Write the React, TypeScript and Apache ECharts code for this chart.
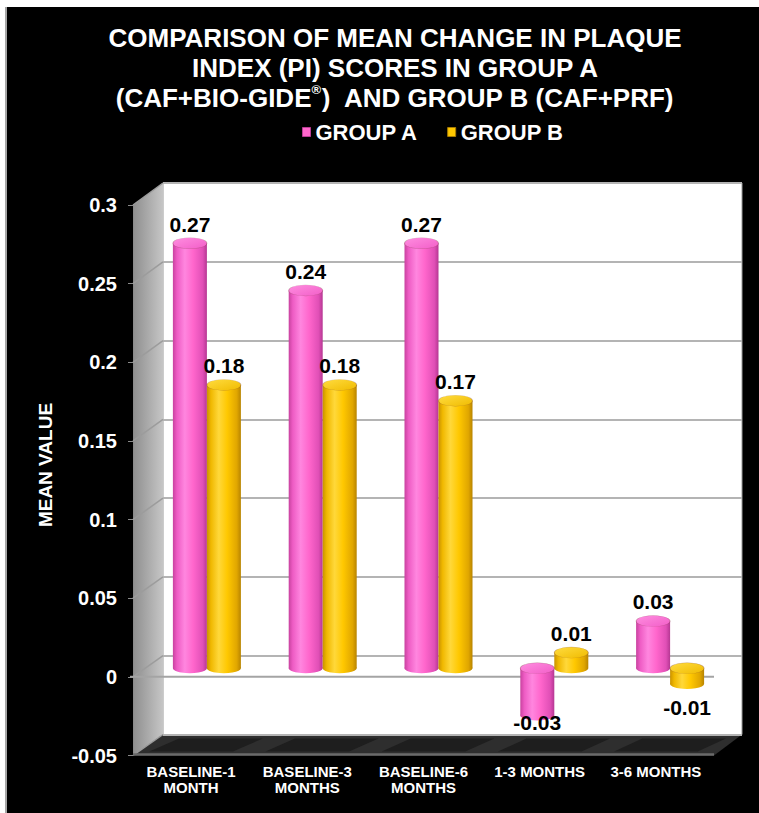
import React, { useEffect, useRef } from "react";
import * as echarts from "echarts";

// Categories and mean change values for each group
const categories = [
  "BASELINE-1\nMONTH",
  "BASELINE-3\nMONTHS",
  "BASELINE-6\nMONTHS",
  "1-3 MONTHS",
  "3-6 MONTHS",
];
const groupA = [0.27, 0.24, 0.27, -0.03, 0.03];
const groupB = [0.18, 0.18, 0.17, 0.01, -0.01];
const seriesNames = ["GROUP A", "GROUP B"];
const yMin = -0.05;
const yMax = 0.3;
const yStep = 0.05;

const FONT = "'Liberation Sans', Arial, Helvetica, sans-serif";

// Box layout (chart pixels): front plane, back wall and the plane the bars stand in
const FRONT = { left: 126, top: 198, width: 581, height: 550.5 };
const BACK = { left: 156, top: 176, width: 579, height: 551.5 };
const BARS = { left: 142, top: 189, width: 579, height: 551 };
const BAR_W = 34;

const yOn = (g: { top: number; height: number }, t: number) =>
  g.top + ((yMax - t) / (yMax - yMin)) * g.height;

const pinkBody = () =>
  new echarts.graphic.LinearGradient(0, 0, 1, 0, [
    { offset: 0, color: "#c8429f" },
    { offset: 0.12, color: "#ee5cc4" },
    { offset: 0.35, color: "#ff86df" },
    { offset: 0.6, color: "#ff66cc" },
    { offset: 0.88, color: "#e04fb6" },
    { offset: 1, color: "#b63793" },
  ]);
const yellowBody = () =>
  new echarts.graphic.LinearGradient(0, 0, 1, 0, [
    { offset: 0, color: "#c99200" },
    { offset: 0.12, color: "#f0b800" },
    { offset: 0.35, color: "#ffd83a" },
    { offset: 0.6, color: "#ffc800" },
    { offset: 0.88, color: "#e0a600" },
    { offset: 1, color: "#b88400" },
  ]);
const pinkTop = () =>
  new echarts.graphic.LinearGradient(0, 0, 1, 1, [
    { offset: 0, color: "#ff8ee0" },
    { offset: 1, color: "#f25ec8" },
  ]);
const yellowTop = () =>
  new echarts.graphic.LinearGradient(0, 0, 1, 1, [
    { offset: 0, color: "#ffdc40" },
    { offset: 1, color: "#f0bb00" },
  ]);

function buildOption() {
  const ticks: number[] = [];
  for (let k = 0; k <= Math.round((yMax - yMin) / yStep); k++) ticks.push(yMin + k * yStep);

  const fl = FRONT.left;
  const fr = FRONT.left + FRONT.width;
  const bl = BACK.left;
  const br = BACK.left + BACK.width;
  const fBottom = FRONT.top + FRONT.height;
  const bBottom = BACK.top + BACK.height;

  const graphic: any[] = [];
  // side wall
  graphic.push({
    type: "polygon",
    z: 0,
    shape: { points: [[fl, FRONT.top], [bl, BACK.top], [bl, bBottom], [fl, fBottom]] },
    style: {
      fill: new echarts.graphic.LinearGradient(0, 0, 1, 0, [
        { offset: 0, color: "#8e8e8e" },
        { offset: 1, color: "#c6c6c6" },
      ]),
    },
  });
  ticks.forEach((t) => {
    graphic.push({
      type: "line",
      z: 1,
      shape: { x1: fl, y1: yOn(FRONT, t), x2: bl, y2: yOn(BACK, t) },
      style: { stroke: "#9c9c9c", lineWidth: 1.5 },
    });
  });
  // floor
  graphic.push({
    type: "polygon",
    z: 0,
    shape: { points: [[fl, fBottom], [bl, bBottom], [br, bBottom], [fr, fBottom]] },
    style: { fill: "#2e2e2e" },
  });
  const nCat = categories.length;
  for (let i = 0; i < nCat; i++) {
    const fb = FRONT.width / nCat;
    const bb = BACK.width / nCat;
    const cf = fl + fb * (i + 0.5);
    const cb = bl + bb * (i + 0.5);
    const hw = fb * 0.36;
    graphic.push({
      type: "polygon",
      z: 1,
      shape: {
        points: [
          [cf - hw, fBottom - 4],
          [cb - hw, bBottom + 4],
          [cb + hw, bBottom + 4],
          [cf + hw, fBottom - 4],
        ],
      },
      style: { fill: "#1e1e1e" },
    });
  }
  graphic.push({
    type: "line",
    z: 1,
    shape: { x1: fl, y1: fBottom - 1, x2: fr, y2: fBottom - 1 },
    style: { stroke: "#6a6a6a", lineWidth: 2.5 },
  });
  // zero line across the front
  graphic.push({
    type: "line",
    z: 1,
    shape: { x1: fl - 3, y1: yOn(FRONT, 0), x2: fr, y2: yOn(FRONT, 0) },
    style: { stroke: "#a4a4a4", lineWidth: 2 },
  });
  // title
  graphic.push({
    type: "text",
    z: 5,
    x: 388,
    y: 16,
    style: {
      text:
        "COMPARISON OF MEAN CHANGE IN PLAQUE\nINDEX (PI) SCORES IN GROUP A\n(CAF+BIO-GIDE{sup|®})  AND GROUP B (CAF+PRF)",
      fill: "#ffffff",
      fontSize: 26,
      fontWeight: "bold",
      fontFamily: FONT,
      lineHeight: 30,
      align: "center",
      verticalAlign: "top",
      rich: {
        sup: {
          fill: "#ffffff",
          fontSize: 13,
          fontWeight: "bold",
          fontFamily: FONT,
          verticalAlign: "top",
          lineHeight: 30,
          padding: [0, 0, 8, 0],
        },
      },
    },
  });
  // y-axis name
  graphic.push({
    type: "text",
    z: 5,
    x: 38,
    y: 458,
    rotation: Math.PI / 2,
    style: {
      text: "MEAN VALUE",
      fill: "#ffffff",
      fontSize: 19,
      fontWeight: "bold",
      fontFamily: FONT,
      align: "center",
      verticalAlign: "middle",
    },
  });

  const capLabel = (vals: number[], dist: number, pos: string, offset: number[]) => ({
    show: true,
    position: pos,
    distance: dist,
    offset,
    color: "#000",
    fontSize: 21,
    fontWeight: "bold",
    fontFamily: FONT,
    formatter: (p: any) => vals[p.dataIndex].toFixed(2),
  });

  const makeCaps = (
    vals: number[],
    name: string,
    dx: number,
    topFill: () => any,
    bodyFill: () => any,
    negLabel: any
  ) => [
    {
      type: "scatter",
      name: name + " base",
      xAxisIndex: 2,
      yAxisIndex: 2,
      z: 2,
      symbol: "circle",
      symbolSize: [BAR_W, 10],
      symbolOffset: [dx, 0],
      itemStyle: { color: bodyFill(), opacity: 1 },
      silent: true,
      data: vals.map((v, i) => ({
        value: [i, Math.min(v, 0)],
        label: v < 0 ? negLabel : { show: false },
      })),
    },
    {
      type: "scatter",
      name: name + " top",
      xAxisIndex: 2,
      yAxisIndex: 2,
      z: 4,
      symbol: "circle",
      symbolSize: [BAR_W, 11],
      symbolOffset: [dx, 0],
      itemStyle: {
        color: topFill(),
        borderColor: "rgba(120,60,60,0.35)",
        borderWidth: 0.6,
        opacity: 1,
      },
      silent: true,
      data: vals.map((v, i) => ({
        value: [i, Math.max(v, 0)],
        label: v >= 0 ? capLabel(vals, 3, "top", [0, 0]) : { show: false },
      })),
    },
  ];

  return {
    animation: false,
    backgroundColor: "#000000",
    legend: {
      data: [
        { name: seriesNames[0], itemStyle: { color: "#ff66cc", borderColor: "#b83c94", borderWidth: 1 } },
        { name: seriesNames[1], itemStyle: { color: "#ffc800", borderColor: "#a87c00", borderWidth: 1 } },
      ],
      left: 290,
      top: 109,
      icon: "rect",
      itemWidth: 8,
      itemHeight: 9,
      itemGap: 29,
      selectedMode: false,
      textStyle: { color: "#ffffff", fontSize: 22, fontWeight: "bold", fontFamily: FONT },
    },
    graphic,
    grid: [
      { ...FRONT, show: false },
      {
        ...BACK,
        show: true,
        backgroundColor: "#ffffff",
        borderColor: "#9a9a9a",
        borderWidth: 1,
      },
      { ...BARS, show: false },
    ],
    xAxis: [
      {
        gridIndex: 0,
        type: "category",
        data: categories,
        axisLine: { show: false },
        axisTick: { show: false },
        axisLabel: {
          interval: 0,
          color: "#ffffff",
          fontSize: 15,
          fontWeight: "bold",
          fontFamily: FONT,
          lineHeight: 16,
          margin: 8,
        },
      },
      { gridIndex: 1, type: "category", data: categories, show: false },
      { gridIndex: 2, type: "category", data: categories, show: false },
    ],
    yAxis: [
      {
        gridIndex: 0,
        type: "value",
        min: yMin,
        max: yMax,
        interval: yStep,
        axisLine: { show: true, lineStyle: { color: "#8a8a8a", width: 1 } },
        axisTick: { show: true, length: 5, lineStyle: { color: "#8a8a8a" } },
        splitLine: { show: false },
        axisLabel: {
          color: "#ffffff",
          fontSize: 20,
          fontWeight: "bold",
          fontFamily: FONT,
          margin: 16,
        },
      },
      {
        gridIndex: 1,
        type: "value",
        min: yMin,
        max: yMax,
        interval: yStep,
        axisLine: { show: false },
        axisTick: { show: false },
        axisLabel: { show: false },
        splitLine: { show: true, lineStyle: { color: "#b4b4b4", width: 2 } },
      },
      { gridIndex: 2, type: "value", min: yMin, max: yMax, interval: yStep, show: false },
    ],
    series: [
      {
        type: "bar",
        name: seriesNames[0],
        xAxisIndex: 2,
        yAxisIndex: 2,
        z: 3,
        barWidth: BAR_W,
        barGap: "0%",
        itemStyle: { color: pinkBody() },
        data: groupA,
      },
      {
        type: "bar",
        name: seriesNames[1],
        xAxisIndex: 2,
        yAxisIndex: 2,
        z: 3,
        barWidth: BAR_W,
        barGap: "0%",
        itemStyle: { color: yellowBody() },
        data: groupB,
      },
      ...makeCaps(groupA, seriesNames[0], -BAR_W / 2, pinkTop, pinkBody, capLabel(groupA, 0, "inside", [0, 7])),
      ...makeCaps(groupB, seriesNames[1], BAR_W / 2, yellowTop, yellowBody, capLabel(groupB, 8, "bottom", [0, 0])),
    ],
  };
}

export default function App() {
  const ref = useRef<HTMLDivElement>(null);
  useEffect(() => {
    if (!ref.current) return;
    const chart = echarts.init(ref.current, undefined, { renderer: "svg" });
    chart.setOption(buildOption() as any);
    return () => chart.dispose();
  }, []);
  return (
    <div style={{ position: "absolute", left: 0, top: 0, width: 759, height: 813, background: "#ffffff", overflow: "hidden" }}>
      <div style={{ position: "absolute", left: 5, top: 7, width: 2, height: 806, background: "#a6a6a6" }} />
      <div ref={ref} style={{ position: "absolute", left: 7, top: 7, width: 752, height: 806 }} />
    </div>
  );
}
